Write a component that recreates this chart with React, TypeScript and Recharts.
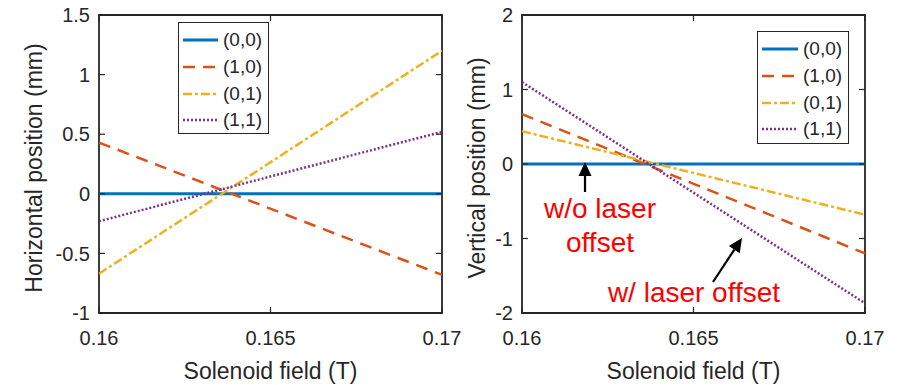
import React from 'react';
import { LineChart, Line, XAxis, YAxis, ReferenceArea, Legend } from 'recharts';

// solenoid field sweep (T) and beam position at the screen for each mode
const fieldT = [0.16, 0.17];
const seriesNames = ['(0,0)', '(1,0)', '(0,1)', '(1,1)'];

const hor00 = [0, 0];
const hor10 = [0.43, -0.68];
const hor01 = [-0.67, 1.2];
const hor11 = [-0.23, 0.52];

const ver00 = [0, 0];
const ver10 = [0.67, -1.2];
const ver01 = [0.44, -0.68];
const ver11 = [1.1, -1.87];

const xTicks = [0.16, 0.165, 0.17];
const horTicks = [-1, -0.5, 0, 0.5, 1, 1.5];
const verTicks = [-2, -1, 0, 1, 2];

const FONT = '"Liberation Sans", Arial, sans-serif';
const INK = '#262626';

const lineStyles = [
  { key: 's00', color: '#0072BD', dash: undefined as string | undefined, width: 3 },
  { key: 's10', color: '#D95319', dash: '12 8', width: 2.5 },
  { key: 's01', color: '#EDB120', dash: '9 3 3 3', width: 2.5 },
  { key: 's11', color: '#7E2F8E', dash: '2 2', width: 2.5 },
];

function buildRows(s00: number[], s10: number[], s01: number[], s11: number[]) {
  return fieldT.map((t, i) => ({ t, s00: s00[i], s10: s10[i], s01: s01[i], s11: s11[i] }));
}

const horRows = buildRows(hor00, hor10, hor01, hor11);
const verRows = buildRows(ver00, ver10, ver01, ver11);

type Box = { left: number; right: number; top: number; bottom: number };

function LegendBox({ sampleW, textGap }: { sampleW: number; textGap: number }) {
  return (
    <div
      style={{
        border: `1.5px solid ${INK}`,
        background: '#fff',
        boxSizing: 'border-box',
        width: '100%',
        height: '100%',
        padding: '4px 0 0 4px',
        fontFamily: FONT,
        fontSize: 19,
        color: INK,
      }}
    >
      {lineStyles.map((s, i) => (
        <div key={s.key} style={{ display: 'flex', alignItems: 'center', height: 26.7 }}>
          <svg width={sampleW} height={10} style={{ marginRight: textGap }}>
            <line x1={0} x2={sampleW} y1={5} y2={5} stroke={s.color} strokeWidth={s.width} strokeDasharray={s.dash} />
          </svg>
          <span>{seriesNames[i]}</span>
        </div>
      ))}
    </div>
  );
}

function Panel(props: {
  left: number;
  width: number;
  box: Box;
  rows: typeof horRows;
  yTicks: number[];
  yLabel: string;
  yLabelX: number;
  legend: { left: number; top: number; width: number; height: number; sampleW: number };
}) {
  const { left, width, box, rows, yTicks, yLabel, yLabelX, legend } = props;
  const yDomain = [yTicks[0], yTicks[yTicks.length - 1]];

  const renderXTick = (p: any) => (
    <g>
      <line x1={p.x} x2={p.x} y1={box.bottom} y2={box.bottom - 6} stroke={INK} strokeWidth={1.2} />
      <line x1={p.x} x2={p.x} y1={box.top} y2={box.top + 6} stroke={INK} strokeWidth={1.2} />
      <text x={p.x} y={box.bottom + 32} textAnchor="middle" fontSize={20} fontFamily={FONT} fill={INK}>
        {String(p.payload.value)}
      </text>
    </g>
  );

  const renderYTick = (p: any) => (
    <g>
      <line x1={box.left} x2={box.left + 6} y1={p.y} y2={p.y} stroke={INK} strokeWidth={1.2} />
      <line x1={box.right} x2={box.right - 6} y1={p.y} y2={p.y} stroke={INK} strokeWidth={1.2} />
      <text x={box.left - 9} y={p.y} dy="0.36em" textAnchor="end" fontSize={20} fontFamily={FONT} fill={INK}>
        {String(p.payload.value)}
      </text>
    </g>
  );

  const renderYLabel = () => {
    const cy = 168;
    return (
      <text
        x={yLabelX}
        y={cy}
        transform={`rotate(-90 ${yLabelX} ${cy})`}
        textAnchor="middle"
        fontSize={23}
        fontFamily={FONT}
        fill={INK}
      >
        {yLabel}
      </text>
    );
  };

  return (
    <div style={{ position: 'absolute', left, top: 0 }}>
      <LineChart
        width={width}
        height={385}
        data={rows}
        margin={{ top: box.top, right: width - box.right, bottom: 0, left: 0 }}
        style={{ overflow: 'visible' }}
      >
        <XAxis
          dataKey="t"
          type="number"
          domain={[fieldT[0], fieldT[1]]}
          ticks={xTicks}
          allowDataOverflow
          height={385 - box.bottom}
          axisLine={false}
          tickLine={false}
          tickSize={0}
          tick={renderXTick}
          interval={0}
          label={{ value: 'Solenoid field (T)', position: 'insideBottom', offset: 6, fontSize: 23, fontFamily: FONT, fill: INK }}
        />
        <YAxis
          type="number"
          domain={yDomain}
          ticks={yTicks}
          allowDataOverflow
          width={box.left}
          axisLine={false}
          tickLine={false}
          tickSize={0}
          tick={renderYTick}
          interval={0}
          label={{ content: renderYLabel }}
        />
        <ReferenceArea
          x1={fieldT[0]}
          x2={fieldT[1]}
          y1={yDomain[0]}
          y2={yDomain[1]}
          fill="none"
          stroke={INK}
          strokeWidth={1.8}
          fillOpacity={0}
        />
        {lineStyles.map((s, i) => (
          <Line
            key={s.key}
            dataKey={s.key}
            name={seriesNames[i]}
            stroke={s.color}
            strokeWidth={s.width}
            strokeDasharray={s.dash}
            dot={false}
            activeDot={false}
            isAnimationActive={false}
          />
        ))}
        <Legend
          layout="horizontal"
          verticalAlign="middle"
          align="center"
          wrapperStyle={{
            left: legend.left,
            top: legend.top,
            width: legend.width,
            height: legend.height,
          }}
          content={() => <LegendBox sampleW={legend.sampleW} textGap={5} />}
        />
      </LineChart>
    </div>
  );
}

// straight arrow with a filled triangular head at (x2, y2)
function Arrow({ x1, y1, x2, y2 }: { x1: number; y1: number; x2: number; y2: number }) {
  const len = Math.hypot(x2 - x1, y2 - y1);
  const ux = (x2 - x1) / len;
  const uy = (y2 - y1) / len;
  const headL = 14;
  const headW = 6.5;
  const bx = x2 - ux * headL;
  const by = y2 - uy * headL;
  const pts = `${x2},${y2} ${bx - uy * headW},${by + ux * headW} ${bx + uy * headW},${by - ux * headW}`;
  return (
    <g>
      <line x1={x1} y1={y1} x2={bx} y2={by} stroke="#000" strokeWidth={2.2} />
      <polygon points={pts} fill="#000" />
    </g>
  );
}

function Annotations() {
  const red = '#FF0000';
  return (
    <svg width={905} height={385} style={{ position: 'absolute', left: 0, top: 0, pointerEvents: 'none' }}>
      <Arrow x1={585} y1={192} x2={585} y2={162} />
      <Arrow x1={713} y1={282} x2={742} y2={238} />
      <g fontFamily={FONT} fontSize={28} fill={red}>
        <text x={600} y={218} textAnchor="middle">w/o laser</text>
        <text x={600} y={252} textAnchor="middle">offset</text>
        <text x={694} y={302} textAnchor="middle">w/ laser offset</text>
      </g>
    </svg>
  );
}

export default function App() {
  return (
    <div style={{ position: 'absolute', left: 0, top: 0, width: 905, height: 385, background: '#fff', overflow: 'hidden' }}>
      <Panel
        left={0}
        width={480}
        box={{ left: 99, right: 442, top: 15, bottom: 313 }}
        rows={horRows}
        yTicks={horTicks}
        yLabel="Horizontal position (mm)"
        yLabelX={42}
        legend={{ left: 178, top: 22, width: 91, height: 112, sampleW: 35 }}
      />
      <Panel
        left={450}
        width={455}
        box={{ left: 72, right: 415, top: 15, bottom: 313 }}
        rows={verRows}
        yTicks={verTicks}
        yLabel="Vertical position (mm)"
        yLabelX={35}
        legend={{ left: 307, top: 31, width: 92, height: 113, sampleW: 36 }}
      />
      <Annotations />
    </div>
  );
}
